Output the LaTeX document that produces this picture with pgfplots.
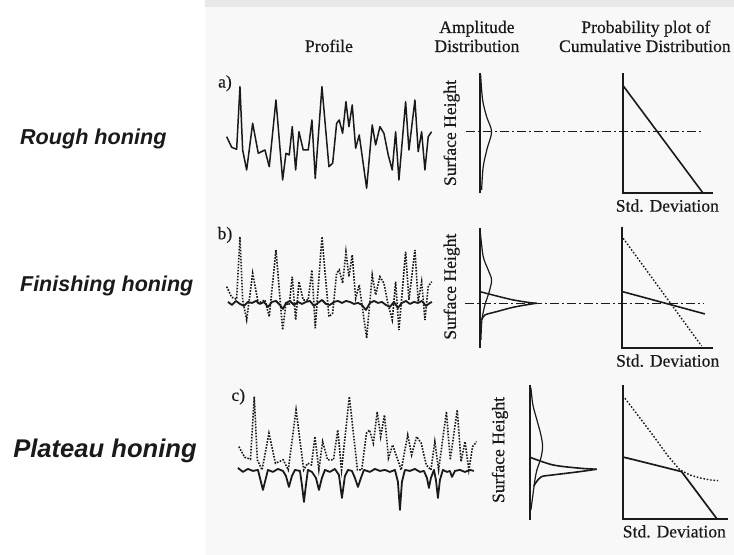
\documentclass[border=0pt]{standalone}
\usepackage{pgfplots}
\pgfplotsset{compat=1.18}
\usepackage{fontspec}
\setmainfont{Liberation Serif}[FakeBold=0.5]
\newfontfamily\arialf{Liberation Sans}
\definecolor{ink}{HTML}{1A1A1A}
\definecolor{paper}{HTML}{F8F8F8}

\newcommand{\hdr}{\fontsize{17.6}{19}\selectfont}
\newcommand{\side}[1]{\fontsize{#1}{#1}\selectfont\arialf\bfseries\itshape}

\begin{document}
\begin{tikzpicture}
\begin{axis}[
  x=1pt, y=1pt,
  xmin=0, xmax=734, ymin=0, ymax=555,
  y dir=reverse,
  axis line style={draw=none},
  ticks=none,
  clip=false,
]
% scanned paper area
\addplot[draw=none, fill=paper] coordinates {(205,0) (734,0) (734,555) (205,555)} -- cycle;
\addplot[draw=none, fill=black!9] coordinates {(205,0) (734,0) (734,7) (205,7)} -- cycle;

% ---------- a) rough honing profile
\addplot[ink, line width=1.5pt, line join=round] coordinates {
(226.7,136.7) (231.7,147.3) (236.7,149.3) (240,86.7) (242.7,150) (246.7,170)
(252.7,123.3) (258.3,153.3) (265,150) (269.3,166.7) (276,100) (282.7,180)
(286,153.3) (289.3,155) (292.3,126.7) (295.7,170) (299,131.7) (303.3,150)
(308.3,150) (312,120) (315.3,178.3) (322,86.7) (329,166.7) (332.7,163.3)
(336.7,123.3) (339.3,120) (342.7,133.3) (346,101.7) (349,126.7) (352.3,105)
(355.7,148.3) (359.3,135) (366.7,188.3) (372.3,125) (375.7,145) (380,126.7)
(384,133.3) (388.3,155) (392.3,170) (395.7,131.7) (399,180) (405.7,101.7)
(409,150) (415,100) (418.3,151.7) (421.7,131.7) (425,170) (428.3,136.7)
(431.7,131.7)};

% ---------- b) finishing honing: original profile dotted + honed profile
\addplot[ink, line width=1.6pt, dash pattern=on 1.6pt off 1.4pt] coordinates {
(226.7,286.7) (231.7,297.3) (236.7,299.3) (240,236.7) (242.7,300) (246.7,320)
(252.7,273.3) (258.3,303.3) (265,300) (269.3,316.7) (276,250) (282.7,330)
(286,303.3) (289.3,305) (292.3,276.7) (295.7,320) (299,281.7) (303.3,300)
(308.3,300) (312,270) (315.3,328.3) (322,236.7) (329,316.7) (332.7,313.3)
(336.7,273.3) (339.3,270) (342.7,283.3) (346,251.7) (349,276.7) (352.3,255)
(355.7,298.3) (359.3,285) (366.7,338.3) (372.3,275) (375.7,295) (380,276.7)
(384,283.3) (388.3,305) (392.3,320) (395.7,281.7) (399,330) (405.7,251.7)
(409,300) (415,250) (418.3,301.7) (421.7,281.7) (425,320) (428.3,286.7)
(431.7,281.7)};
\addplot[ink, line width=1.8pt, line join=round] coordinates {
(228,302) (232,305) (236,301) (240,304) (244,306) (248,302) (252,303) (256,301)
(260,304) (264,302) (268,307) (272,302) (276,301) (280,305) (283,309) (286,303)
(290,301) (294,305) (298,302) (302,304) (306,302) (310,301) (314,306) (318,303)
(322,300) (326,304) (330,305) (334,302) (338,301) (342,303) (346,301) (350,302)
(354,304) (358,303) (362,305) (366,310) (370,303) (374,301) (378,303) (382,302)
(386,305) (390,307) (394,302) (398,308) (402,303) (406,301) (410,304) (414,302)
(418,303) (422,301) (426,306) (430,303) (432,302)};

% ---------- c) plateau honing: original peaks dotted + plateau profile
\addplot[ink, line width=1.6pt, dash pattern=on 1.6pt off 1.4pt] coordinates {
(238.9,446.7) (244.7,457.3) (250.5,459.3) (254.3,396.7) (257.4,460) (262.1,470)
(269.0,433.3) (275.5,463.3) (283.3,460) (288.3,470) (296.1,410) (303.8,470)
(307.7,463.3) (311.5,465) (315.0,436.7) (318.9,470) (322.7,441.7) (327.7,460)
(333.5,460) (337.8,430) (341.6,470) (349.4,396.7) (357.5,470) (361.8,470)
(366.5,433.3) (369.5,430) (373.4,443.3) (377.3,411.7) (380.7,436.7) (384.6,415)
(388.5,458.3) (392.7,445) (401.3,470) (407.8,435) (411.7,455) (416.7,436.7)
(421.3,443.3) (426.3,465) (431.0,470) (434.9,441.7) (438.7,470) (446.5,411.7)
(450.3,460) (457.3,410) (461.1,461.7) (465.1,441.7) (468.9,470) (472.7,446.7)
(476.7,441.7)};
\addplot[ink, line width=1.8pt, line join=round] coordinates {
(238,468) (243,472) (248,469) (253,471) (258,470) (260,478) (263,490) (266,478)
(268,470) (273,472) (278,469) (283,471) (286,476) (289,487) (292,476) (295,470)
(300,471) (302,485) (304,502) (306,485) (308,470) (312,472) (316,478) (319,490)
(322,478) (325,470) (330,472) (335,469) (339,475) (342,498) (345,476) (348,470)
(352,471) (355,478) (358,487) (361,478) (364,470) (370,472) (375,469) (380,471)
(385,470) (390,472) (395,470) (398,482) (400,510) (402,482) (405,470) (410,471)
(415,469) (420,472) (424,471) (427,478) (429,488) (431,478) (434,470) (436,480)
(438,498) (440,480) (443,470) (447,472) (450,471) (452,477) (455,471) (460,470)
(465,472) (470,470) (474,471)};

% ---------- amplitude distributions
% a)
\addplot[ink, line width=2pt] coordinates {(480,73.3) (480,193.3)};
\addplot[ink, line width=1.2pt, smooth] coordinates {
(480.7,75) (482.7,100) (486.7,116.7) (491.7,131.7) (487.3,148.3) (483.3,166.7) (481.7,190)};
\addplot[ink, line width=1.2pt, dash pattern=on 9pt off 3pt on 2pt off 3pt] coordinates {(466,131.7) (703.3,131.7)};
% b)
\addplot[ink, line width=2pt] coordinates {(480,228.3) (480,348.3)};
\addplot[ink, line width=1.2pt, smooth] coordinates {
(480.5,233.3) (483.3,256.7) (488.3,270) (491.7,280) (489.3,291.7) (485,305) (482,320) (481,340)};
\addplot[ink, line width=1.5pt, smooth] coordinates {
(480,291.7) (496.7,296) (513.3,300) (530,302.7) (536.7,303.3)};
\addplot[ink, line width=1.5pt, smooth] coordinates {
(536.7,303.3) (530,304.3) (513.3,307.3) (496.7,311.7) (485,315) (481.7,320)};
\addplot[ink, line width=1.2pt, dash pattern=on 9pt off 3pt on 2pt off 3pt] coordinates {(465,303.3) (703.3,303.3)};
% c)
\addplot[ink, line width=2pt] coordinates {(530,385) (530,520)};
\addplot[ink, line width=1.2pt, smooth] coordinates {
(531,388) (533,405) (537,420) (541,435) (542.7,446.7) (541,458) (537,470) (535,480) (533,495) (531,510)};
\addplot[ink, line width=1.6pt, smooth] coordinates {
(530,457.3) (553,465) (580,468.3) (596.7,469.3)};
\addplot[ink, line width=1.6pt, smooth] coordinates {
(596.7,469.3) (580,471.7) (553,475) (541.7,476.7) (536.7,481.7) (534,486)};

% ---------- probability plots
% a)
\addplot[ink, line width=2pt] coordinates {(622.7,73.3) (622.7,193.3) (713.3,193.3)};
\addplot[ink, line width=1.6pt] coordinates {(622.7,85) (703.3,193.3)};
% b)
\addplot[ink, line width=2pt] coordinates {(621.7,226.7) (621.7,347.7) (713.3,347.7)};
\addplot[ink, line width=1.4pt, dash pattern=on 1.6pt off 1.8pt] coordinates {(623.3,238.3) (701.7,346)};
\addplot[ink, line width=1.6pt] coordinates {(622.7,291.7) (705,314)};
% c)
\addplot[ink, line width=2pt] coordinates {(622.7,385) (622.7,519.3) (728.3,519.3)};
\addplot[ink, line width=1.4pt, dash pattern=on 1.6pt off 1.8pt] coordinates {
(625,398.3) (640,418) (655,438) (668,456) (680,470) (690,475) (700,478) (710,480) (718.3,480.7)};
\addplot[ink, line width=1.7pt] coordinates {(624,457.3) (681.7,471.7) (717.3,519.3)};

% ---------- texts
\node[ink, font=\hdr, anchor=base] at (329,52) {Profile};
\node[ink, font=\hdr, anchor=base] at (477,33) {Amplitude};
\node[ink, font=\hdr, anchor=base] at (477,52) {Distribution};
\node[ink, font=\hdr, anchor=base] at (646,33) {Probability plot of};
\node[ink, font=\hdr, anchor=base] at (645,52) {Cumulative Distribution};

\node[ink, font=\hdr, anchor=center] at (225,83.3) {a)};
\node[ink, font=\hdr, anchor=center] at (225,235) {b)};
\node[ink, font=\hdr, anchor=center] at (238.3,396.7) {c)};

\node[ink, font=\hdr, rotate=90, anchor=center] at (451.7,133) {Surface Height};
\node[ink, font=\hdr, rotate=90, anchor=center] at (451.7,286.7) {Surface Height};
\node[ink, font=\hdr, rotate=90, anchor=center] at (500,450) {Surface Height};

\node[ink, font=\hdr, anchor=base] at (667.5,211.7) {Std. Deviation};
\node[ink, font=\hdr, anchor=base] at (667.8,366.7) {Std. Deviation};
\node[ink, font=\hdr, anchor=base] at (674.5,537.5) {Std. Deviation};

\node[ink, font=\side{21.6}, anchor=base] at (93.3,145) {Rough honing};
\node[ink, font=\side{21.5}, anchor=base] at (106.7,291.7) {Finishing honing};
\node[ink, font=\side{25.6}, anchor=base] at (105,458) {Plateau honing};
\end{axis}
\end{tikzpicture}
\end{document}
